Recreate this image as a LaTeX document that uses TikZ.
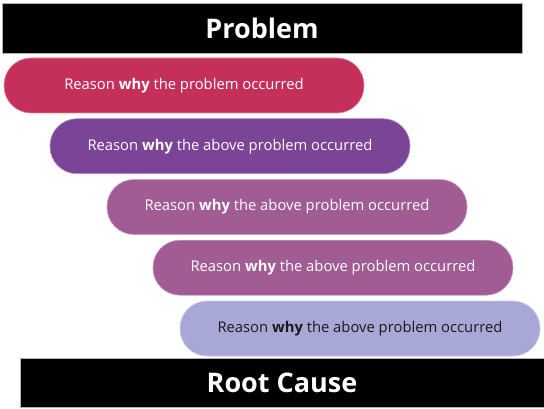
\documentclass[tikz,border=0pt]{standalone}
\usepackage{fontspec}
\setmainfont{Open Sans}
\definecolor{whyred}{HTML}{C5305B}
\definecolor{whyviolet}{HTML}{7B4496}
\definecolor{whymauve}{HTML}{A15C94}
\definecolor{whylilac}{HTML}{A8A8D6}
\definecolor{whytext}{HTML}{1A1A1A}

\begin{document}
\begin{tikzpicture}[x=1pt,y=-1pt,
    bar/.style={fill=black,draw=gray!60,line width=0.6pt,inner sep=0pt,text=white,
      font=\bfseries\fontsize{27}{31}\selectfont},
    pill/.style={rounded corners=27pt,minimum width=360pt,minimum height=55pt,inner sep=0pt,
      line width=0.6pt,font=\fontsize{14.8}{17}\selectfont}]
    \useasboundingbox (0,0) rectangle (544,409); % fixes the margins
    \node[bar,minimum width=520pt,minimum height=50pt] (problem) at (262,28) {Problem};
    \node[pill,fill=whyred,draw=whyred!60!white,text=white] (why1) at (184,85.5)
        {Reason \textbf{why} the problem occurred};
    \foreach \i/\x/\y/\col/\txt in {2/230/146.2/whyviolet/white,3/287/207/whymauve/white,
        4/333/267.7/whymauve/white,5/360/328.5/whylilac/whytext} % edit here for the steps
        \node[pill,fill=\col,draw=\col!60!white,text=\txt] (why\i) at (\x,\y)
        {Reason \textbf{why} the above problem occurred};
    \node[bar,minimum width=524pt,minimum height=49pt] (rootcause) at (282,382.5) {Root Cause};
\end{tikzpicture}
\end{document}
